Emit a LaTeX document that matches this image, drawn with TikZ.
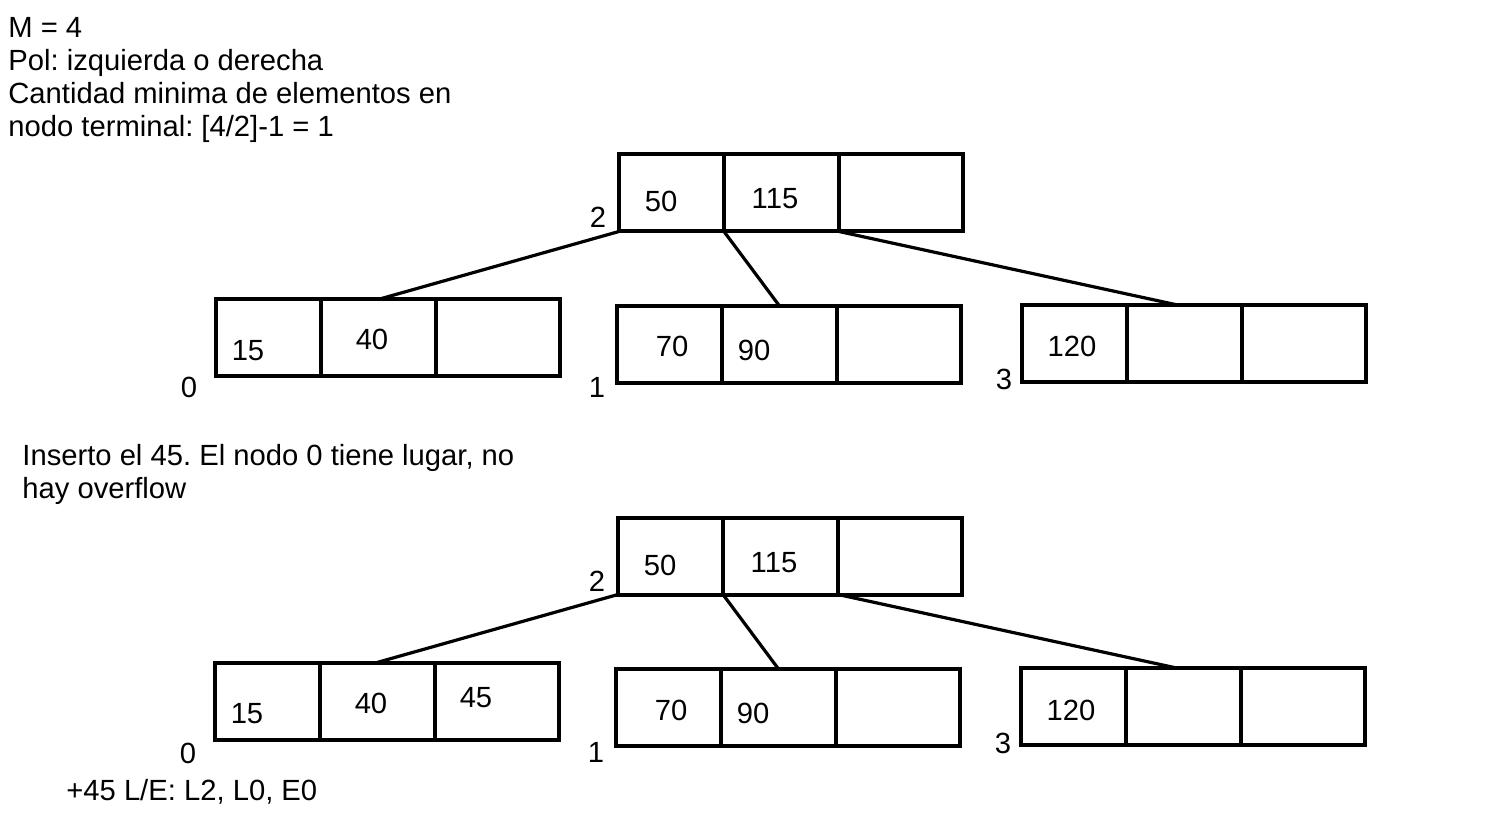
\documentclass[tikz,border=0pt]{standalone}
\usepackage{fontspec}
\setmainfont{Liberation Sans}
\usetikzlibrary{positioning}
\frenchspacing

\tikzset{
  celda/.style={draw, line width=2pt, minimum height=38.5pt, inner sep=0pt, outer sep=0pt, anchor=north west},
  texto/.style={font=\fontsize{14.6pt}{16.5pt}\selectfont, inner sep=0pt},
  valor/.style={texto, anchor=base},
  rama/.style={line width=1.6pt}
}

\begin{document}
\begin{tikzpicture}[x=0.5pt, y=-0.5pt]
    \useasboundingbox (0,0) rectangle (1500,834);

    % Notes
    \node[texto, anchor=north west, align=left] (enc) at (8,17)
      {M = 4\\Pol: izquierda o derecha\\Cantidad minima de elementos en\\nodo terminal: [4/2]-1 = 1};
    \node[texto, anchor=north west, align=left] (ins) at (22,444)
      {Inserto el 45. El nodo 0 tiene lugar, no\\hay overflow};
    \node[texto, anchor=base west] (le) at (66,800) {+45 L/E: L2, L0, E0};

    % Pages: three cells each
    \foreach \n/\x/\y in {R1/619/154.5, A1/215.5/299.5, B1/617/306, C1/1022/305,
                          R2/618/517.5, A2/214.5/662.5, B2/616/669, C2/1021/668} {
      \node[celda, minimum width=52.5pt] (\n a) at (\x,\y) {};
      \node[celda, minimum width=57.5pt] (\n b) at (\n a.north east) {};
      \node[celda, minimum width=62pt] (\n c) at (\n b.north east) {};
    }

    % Page numbers
    \foreach \n/\x/\y/\t in {nR1/598/228/2, nA1/189/398/0, nB1/597/398/1, nC1/1004/389/3,
                             nR2/597/591/2, nA2/188/763/0, nB2/596/762/1, nC2/1003/753/3}
      \node[valor] (\n) at (\x,\y) {\t};

    % Keys
    \foreach \n/\x/\y/\t in {kR1a/661/212/50, kR1b/775/209/115, kA1a/248/360/15, kA1b/372/350/40,
                             kB1a/672/357/70, kB1b/754/360/90, kC1a/1072/357/120,
                             kR2a/660/575/50, kR2b/774/572/115, kA2a/247/723/15, kA2b/371/713/40,
                             kA2c/476/707/45, kB2a/671/720/70, kB2b/753/723/90, kC2a/1071/720/120}
      \node[valor] (\n) at (\x,\y) {\t};

    % Branches
    \foreach \t in {1,2} {
      \draw[rama] (R\t a.south west) -- (A\t b.north);
      \draw[rama] (R\t a.south east) -- (B\t b.north);
      \draw[rama] (R\t b.south east) -- ([xshift=-3.5pt]C\t b.north);
    }
\end{tikzpicture}
\end{document}
